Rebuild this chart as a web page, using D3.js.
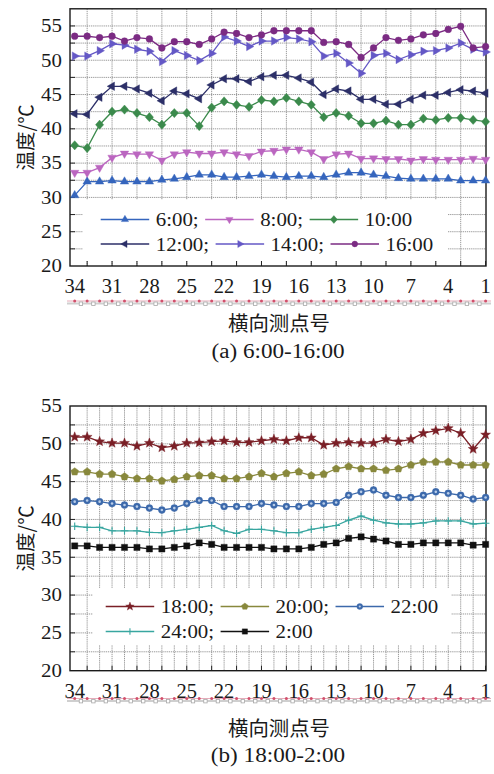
<!DOCTYPE html>
<html><head><meta charset="utf-8">
<script src="https://cdn.jsdelivr.net/npm/d3@7"></script>
<style>body{margin:0;background:#fff}svg{display:block}</style>
</head><body>
<svg id="c" width="494" height="774"></svg>
<script>
// ---------- data ----------
const points = [34,33,32,31,30,29,28,27,26,25,24,23,22,21,20,19,18,17,16,15,14,13,12,11,10,9,8,7,6,5,4,3,2,1];
const xTickLabels = [34,31,28,25,22,19,16,13,10,7,4,1];
const yTickLabels = [20,25,30,35,40,45,50,55];

const namesA = ["6:00;","8:00;","10:00","12:00;","14:00;","16:00"];
const t0600 = [30.3,32.3,32.3,32.45,32.3,32.3,32.3,32.55,32.7,32.95,33.3,33.3,32.95,32.95,33.1,33.3,33.1,32.95,33.1,33.1,32.95,33.3,33.6,33.6,33.3,33.1,32.8,32.7,32.7,32.7,32.7,32.45,32.45,32.45];
const t0800 = [33.6,33.6,34.35,35.8,36.4,36.3,36.3,35.4,36.3,36.6,36.4,36.4,36.6,36.3,36.05,36.7,36.8,37.0,37.0,36.6,35.6,36.3,36.4,35.65,35.7,35.6,35.6,35.4,35.6,35.5,35.5,35.5,35.65,35.5];
const t1000 = [37.6,37.2,40.6,42.5,42.8,42.3,41.7,40.6,42.3,42.3,40.4,43.1,44.0,43.5,43.2,44.2,44.0,44.5,44.0,43.5,41.7,42.3,41.9,40.8,40.8,41.2,40.6,40.6,41.5,41.3,41.6,41.6,41.3,41.05];
const t1200 = [42.2,42.1,44.6,46.2,46.2,45.8,45.2,44.1,45.5,45.1,44.4,46.4,47.3,47.3,46.9,47.6,47.8,47.8,47.4,46.8,45.0,45.8,45.5,44.3,44.3,43.6,43.6,44.3,44.9,44.9,45.3,45.7,45.5,45.2];
const t1400 = [50.6,50.6,51.4,52.4,52.2,51.6,51.3,49.8,51.4,50.7,49.95,51.0,53.4,52.8,52.0,52.8,52.8,53.3,53.1,52.7,50.6,51.0,49.6,48.1,50.7,51.0,50.1,50.8,51.3,51.4,51.8,52.5,51.6,51.2];
const t1600 = [53.5,53.5,53.3,53.5,52.8,53.3,53.1,51.8,52.7,52.7,52.3,53.1,54.1,53.9,53.3,53.7,54.3,54.3,54.3,54.3,52.6,52.7,52.3,50.4,51.8,53.3,52.9,53.1,53.7,53.9,54.5,54.95,51.8,52.0];

const namesB = ["18:00;","20:00;","22:00","24:00;","2:00"];
const t1800 = [50.9,50.9,50.3,50.1,50.1,49.7,50.1,49.5,49.7,50.1,50.15,50.3,50.4,50.2,50.2,50.4,50.6,50.4,50.8,50.8,49.85,50.1,50.2,50.1,50.1,50.6,50.3,50.6,51.4,51.75,52.05,51.4,49.3,51.2];
const t2000 = [46.3,46.3,46.0,46.0,45.65,45.4,45.4,45.1,45.3,45.65,45.8,45.8,45.4,45.4,45.65,46.1,45.65,46.1,46.3,45.8,46.0,46.7,47.0,46.7,46.7,46.5,46.7,47.2,47.6,47.6,47.6,47.2,47.2,47.2];
const t2200 = [42.35,42.5,42.35,42.1,41.9,41.7,41.5,41.25,41.5,42.1,42.5,42.5,41.7,41.7,41.7,42.1,41.9,41.7,41.7,42.1,42.1,42.25,43.2,43.65,43.9,43.2,42.9,42.9,43.2,43.65,43.45,43.2,42.7,42.9];
const t2400 = [39.1,38.95,38.95,38.5,38.5,38.5,38.3,38.25,38.5,38.7,38.95,39.2,38.5,38.15,38.7,38.7,38.5,38.25,38.25,38.7,38.95,39.2,39.9,40.45,39.9,39.55,39.4,39.4,39.55,39.8,39.8,39.8,39.4,39.5];
const t0200 = [36.5,36.5,36.3,36.3,36.3,36.3,36.1,36.1,36.3,36.5,36.9,36.7,36.3,36.3,36.3,36.3,36.1,36.1,36.1,36.3,36.7,36.9,37.5,37.7,37.4,37.15,36.7,36.7,36.9,36.9,36.9,36.9,36.6,36.7];

const xTitle = "横向测点号";
const yTitle = "温度/℃";
const captions = ["(a) 6:00-16:00","(b) 18:00-2:00"];

// ---------- helpers ----------
const serif = "'Liberation Serif','Times New Roman',serif";
const cjk = "'Noto Sans CJK SC','Noto Sans CJK JP',sans-serif";
const svg = d3.select("#c");

function txt(g, x, y, s, o){
  const t = g.append("text")
    .attr("transform", `translate(${x},${y}) scale(${o.sx||1},1)`)
    .attr("font-family", o.family||serif).attr("font-size", o.size)
    .attr("text-anchor", o.anchor||"start").attr("fill", o.fill||"#1a1a1a").text(s);
  if (o.baseline) t.attr("dominant-baseline", o.baseline);
  return t;
}
function poly(pts){ return "M" + pts.map(p=>p[0].toFixed(2)+","+p[1].toFixed(2)).join("L") + "Z"; }
function reg(n, R, rot){ const a=[]; for(let k=0;k<n;k++){const t=rot+k*2*Math.PI/n;a.push([R*Math.cos(t),R*Math.sin(t)]);} return a; }
function star(R, r){ const a=[]; for(let k=0;k<10;k++){const t=-Math.PI/2+k*Math.PI/5;const rr=k%2?r:R;a.push([rr*Math.cos(t),rr*Math.sin(t)]);} return a; }
const shapes = {
  triUp: s=>({d:poly(reg(3,4.9*s,-Math.PI/2))}),
  triDown: s=>({d:poly(reg(3,4.9*s,Math.PI/2))}),
  triLeft: s=>({d:poly(reg(3,4.9*s,Math.PI))}),
  triRight: s=>({d:poly(reg(3,4.9*s,0))}),
  diamond: s=>({d:poly([[0,-4.6*s],[4.1*s,0],[0,4.6*s],[-4.1*s,0]])}),
  circle: s=>({d:d3.symbol(d3.symbolCircle, 36*s*s)()}),
  star: s=>({d:poly(star(5.2*s,2.2*s))}),
  pentagon: s=>({d:poly(reg(5,4.1*s,-Math.PI/2))}),
  ring: s=>({d:d3.symbol(d3.symbolCircle, 38*s*s)(), inner:1.3*s}),
  plus: s=>({d:`M${-3.8*s},0H${3.8*s}M0,${-3.8*s}V${3.8*s}`, stroke:true}),
  square: s=>({d:poly([[-3.1*s,-3.1*s],[3.1*s,-3.1*s],[3.1*s,3.1*s],[-3.1*s,3.1*s]])})
};
function marker(g, x, y, shape, color, s){
  const m = shapes[shape](s);
  const p = g.append("path").attr("transform",`translate(${x},${y})`).attr("d", m.d);
  if (m.stroke) p.attr("fill","none").attr("stroke",color).attr("stroke-width",1.1);
  else p.attr("fill",color).attr("stroke",color).attr("stroke-width",0.4);
  if (m.inner) g.append("circle").attr("cx",x).attr("cy",y).attr("r",m.inner).attr("fill","#b9cde8");
}

// ---------- panels ----------
const panels = [
  { top:8.8, bottom:266, ymax:57.5, vgridAll:false,
    series:[
      {v:t0600,c:"#3565bd",m:"triUp"},{v:t0800,c:"#bb66c0",m:"triDown"},{v:t1000,c:"#3b8a4c",m:"diamond"},
      {v:t1200,c:"#2c2f68",m:"triLeft"},{v:t1400,c:"#6458c6",m:"triRight"},{v:t1600,c:"#7b2b83",m:"circle"}],
    names:namesA, rows:[[0,1,2],[3,4,5]], legendX:100.7, legendY:[219.5,244], box:[83,200,448,261],
    strip:301, caption:captions[0] },
  { top:406, bottom:670.7, ymax:55, vgridAll:true,
    series:[
      {v:t1800,c:"#7a1f26",m:"star"},{v:t2000,c:"#88883c",m:"pentagon"},{v:t2200,c:"#3c69ab",m:"ring"},
      {v:t2400,c:"#38a6a0",m:"plus"},{v:t0200,c:"#111111",m:"square"}],
    names:namesB, rows:[[0,1,2],[3,4]], legendX:105.7, legendY:[606.5,631.5], box:[93,588,451,645],
    strip:698.5, caption:captions[1] }
];

const L = 70, R = 486;
const x = d3.scaleLinear().domain([34,1]).range([74.7,485.6]);

panels.forEach(P=>{
  const y = d3.scaleLinear().domain([20,P.ymax]).range([P.bottom,P.top]);
  const g = svg.append("g");
  const gridVals = d3.range(22.5, P.ymax, 2.5);
  const grid = g.append("g").attr("stroke","#8e8e8e").attr("stroke-width",0.9).attr("stroke-dasharray","1.3,0.8");
  gridVals.forEach(v=>grid.append("line").attr("x1",L).attr("x2",R).attr("y1",y(v)).attr("y2",y(v)));
  const vIdx = points.map((p,i)=>i).filter(i=> P.vgridAll ? (i>0 && i<33) : (i%2===1 && i<33));
  vIdx.forEach(i=>grid.append("line").attr("x1",x(points[i])).attr("x2",x(points[i])).attr("y1",P.top).attr("y2",P.bottom));

  // legend box
  const b = P.box;
  g.append("rect").attr("x",b[0]).attr("y",b[1]).attr("width",b[2]-b[0]).attr("height",b[3]-b[1]).attr("fill","#fff");

  // inner ticks
  const tk = g.append("g").attr("stroke","#222").attr("stroke-width",1);
  points.forEach((p,i)=>{ if(i%2===1) tk.append("line").attr("x1",x(p)).attr("x2",x(p)).attr("y1",P.bottom).attr("y2",P.bottom-5); });
  gridVals.forEach(v=>tk.append("line").attr("x1",L).attr("x2",L+5).attr("y1",y(v)).attr("y2",y(v)));

  // frame
  g.append("rect").attr("x",L).attr("y",P.top).attr("width",R-L).attr("height",P.bottom-P.top)
    .attr("fill","none").attr("stroke","#1a1a1a").attr("stroke-width",1.4);

  // series
  P.series.forEach(s=>{
    const line = d3.line().x((d,i)=>x(points[i])).y(d=>y(d));
    g.append("path").attr("d",line(s.v)).attr("fill","none").attr("stroke",s.c).attr("stroke-width",1.3);
    s.v.forEach((d,i)=>marker(g, x(points[i]), y(d), s.m, s.c, 1));
  });

  // legend
  P.rows.forEach((row,ri)=>{
    let cx = P.legendX; const ly = P.legendY[ri];
    row.forEach(k=>{
      const s = P.series[k];
      g.append("line").attr("x1",cx).attr("x2",cx+48.5).attr("y1",ly).attr("y2",ly).attr("stroke",s.c).attr("stroke-width",1.3);
      marker(g, cx+24.25, ly, s.m, s.c, 0.85);
      const tx = cx + 48.5 + 6.5;
      const t = txt(g, tx, ly+6.5, P.names[k], {size:19, sx:1.1});
      cx = tx + t.node().getComputedTextLength()*1.1 + 6.5;
    });
  });

  // tick labels
  yTickLabels.forEach(v=>txt(g, 62, y(v)+6.3, v, {size:18.5, anchor:"end", sx:1.13}));
  xTickLabels.forEach(v=>txt(g, x(v), P.bottom+27.3, v, {size:20.5, anchor:"middle", sx:1.0}));

  // decorative strip of measuring points
  const st = g.append("g");
  st.append("line").attr("x1",67).attr("x2",491).attr("y1",P.strip+2.6).attr("y2",P.strip+2.6).attr("stroke","#cfcfcf").attr("stroke-width",2);
  st.append("line").attr("x1",67).attr("x2",491).attr("y1",P.strip).attr("y2",P.strip).attr("stroke","#e3a3b2").attr("stroke-width",0.9);
  points.forEach((p,i)=>{
    if(i<33){ const mx=(x(p)+x(points[i+1]))/2;
      st.append("rect").attr("x",mx-1.7).attr("y",P.strip+1).attr("width",3.4).attr("height",3.4).attr("fill","#fff").attr("stroke","#a8a8a8").attr("stroke-width",0.8); }
    st.append("circle").attr("cx",x(p)).attr("cy",P.strip).attr("r",1.5).attr("fill","#d1506b");
  });

  // titles
  txt(g, 279, P.bottom+57, xTitle, {size:20, anchor:"middle", baseline:"central", family:cjk, sx:1.02});
  txt(g, 278, P.bottom+91.5, P.caption, {size:20.5, anchor:"middle", sx:1.13});
  g.append("text").attr("transform",`translate(24,${(P.top+P.bottom)/2}) rotate(-90)`)
    .attr("font-family",cjk).attr("font-size",19.5).attr("text-anchor","middle").attr("dominant-baseline","central")
    .attr("fill","#1a1a1a").text(yTitle);
});
</script>
</body></html>
